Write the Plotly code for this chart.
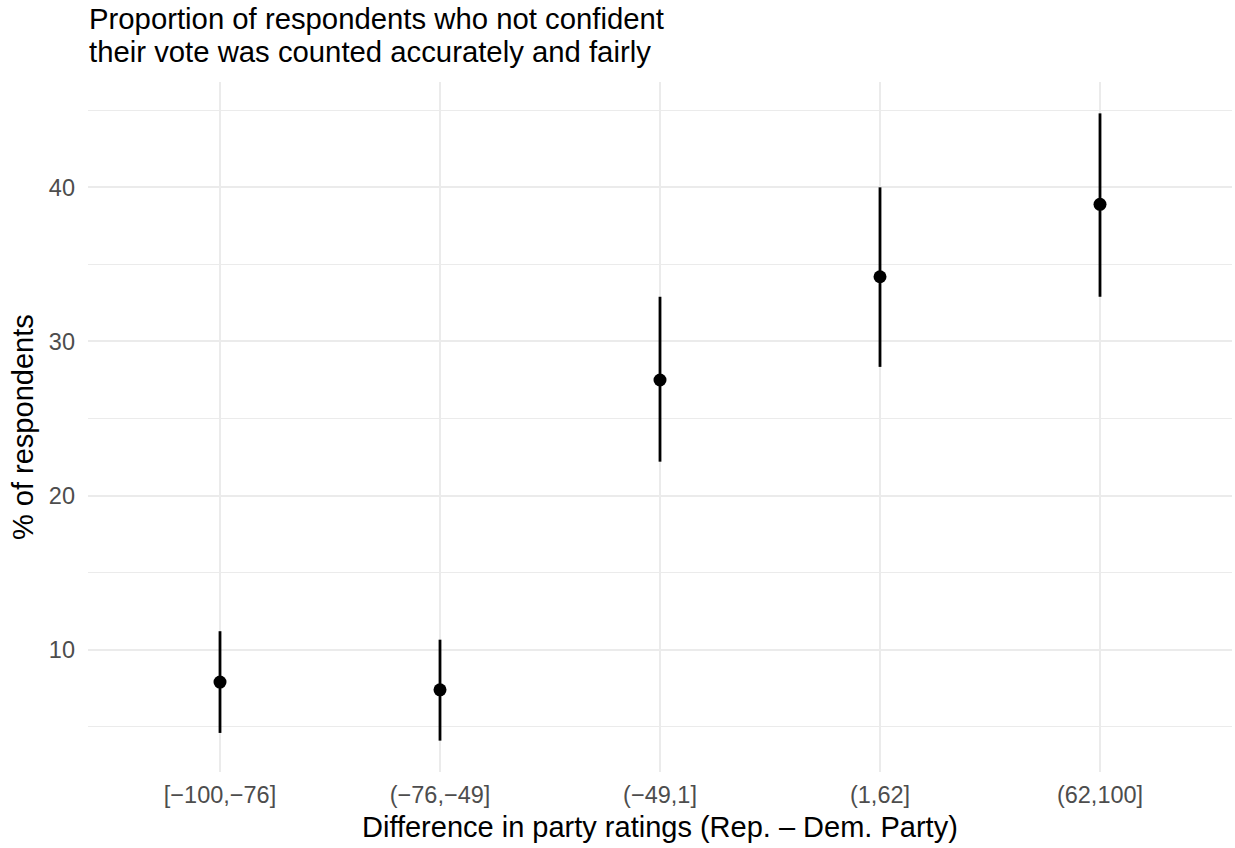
import plotly.graph_objects as go

categories = ["[\u2212100,\u221276]", "(\u221276,\u221249]", "(\u221249,1]", "(1,62]", "(62,100]"]
estimate = [7.9, 7.4, 27.5, 34.2, 38.9]
lower = [4.6, 4.1, 22.2, 28.35, 32.9]
upper = [11.2, 10.65, 32.9, 40.0, 44.8]
y_ticks = [10, 20, 30, 40]
y_minor_ticks = [5, 15, 25, 35, 45]

title_lines = ["Proportion of respondents who not confident",
               "their vote was counted accurately and fairly"]
x_title = "Difference in party ratings (Rep. \u2013 Dem. Party)"
y_title = "% of respondents"

FONT = "Liberation Sans, Arial, Helvetica, sans-serif"
GRID = "#EBEBEB"

x_idx = list(range(len(categories)))
err_plus = [h - m for h, m in zip(upper, estimate)]
err_minus = [m - l for m, l in zip(estimate, lower)]

fig = go.Figure()
fig.add_trace(go.Scatter(
    x=x_idx, y=estimate, mode="markers",
    marker=dict(color="black", size=13),
    error_y=dict(type="data", symmetric=False, array=err_plus, arrayminus=err_minus,
                 color="black", thickness=2.8, width=0),
    showlegend=False, hoverinfo="skip",
))

lo_all, hi_all = min(lower), max(upper)
pad = 0.05 * (hi_all - lo_all)

W, H = 1235, 848
ml, mr, mt, mb = 88, 3, 82, 76
ph = H - mt - mb
pw = W - ml - mr

fig.update_layout(
    width=W, height=H,
    margin=dict(l=ml, r=mr, t=mt, b=mb, pad=0),
    paper_bgcolor="white", plot_bgcolor="white",
    font=dict(family=FONT, color="black"),
    xaxis=dict(
        range=[-0.6, len(categories) - 0.4],
        tickmode="array", tickvals=x_idx, ticktext=categories,
        showgrid=True, gridcolor=GRID, gridwidth=1.8,
        zeroline=False, showline=False, ticks="",
        tickfont=dict(size=23.5, color="#4D4D4D", family=FONT),
        ticklabelstandoff=6,
    ),
    yaxis=dict(
        range=[lo_all - pad, hi_all + pad],
        tickmode="array", tickvals=y_ticks,
        showgrid=True, gridcolor=GRID, gridwidth=2,
        minor=dict(tickmode="array", tickvals=y_minor_ticks, showgrid=True,
                   gridcolor=GRID, gridwidth=1.1, ticks=""),
        zeroline=False, showline=False, ticks="",
        tickfont=dict(size=23.5, color="#4D4D4D", family=FONT),
        ticklabelstandoff=12,
    ),
    annotations=[
        dict(text=title_lines[0], xref="paper", yref="paper", x=0, xanchor="left",
             y=1 + (mt - 18.3) / ph, yanchor="middle", showarrow=False, borderpad=0,
             font=dict(size=29.3, color="black", family=FONT)),
        dict(text=title_lines[1], xref="paper", yref="paper", x=0, xanchor="left",
             y=1 + (mt - 51.8) / ph, yanchor="middle", showarrow=False, borderpad=0,
             font=dict(size=29.3, color="black", family=FONT)),
        dict(text=x_title, xref="paper", yref="paper", x=0.5, xanchor="center",
             y=-(827 - (H - mb)) / ph, yanchor="middle", showarrow=False,
             font=dict(size=29, color="black", family=FONT)),
        dict(text=y_title, xref="paper", yref="paper", x=-(ml - 23) / pw, xanchor="center",
             y=0.5, yanchor="middle", textangle=-90, showarrow=False,
             font=dict(size=29, color="black", family=FONT)),
    ],
)

fig.write_html(
    "out.html",
    config={"displayModeBar": False, "staticPlot": True},
    post_script="document.body.style.margin='0';document.body.style.padding='0';"
                "document.documentElement.style.overflow='hidden';",
)
